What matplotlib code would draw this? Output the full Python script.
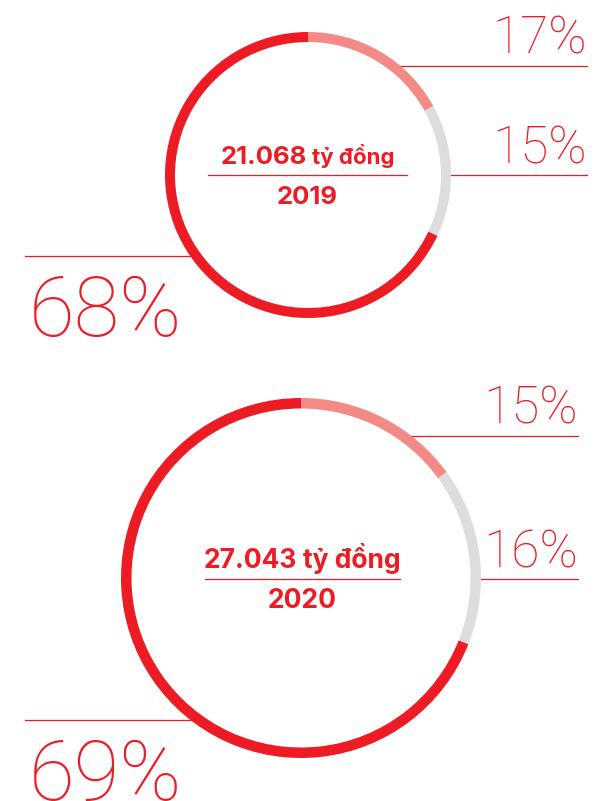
import matplotlib
matplotlib.use('Agg')
import matplotlib.pyplot as plt
import numpy as np

# Data
years = ['2019', '2020']
totals = ['21.068', '27.043']
unit = 'tỷ đồng'
shares = [[17, 15, 68], [15, 16, 69]]

red = '#ED1C24'
pink = '#F48A85'
grey = '#DCDDDE'
seg_colors = [pink, grey, red]

W, H = 595, 801
fig = plt.figure(figsize=(W / 100, H / 100), dpi=100)
ax = fig.add_axes([0, 0, 1, 1])

# ring layout (pixel coords, y from top)
rings = [
    dict(cx=308, cy=175, r=143, w=10, lines=[66, 175, 256], right=587,
         uline=(208, 407, 175), num_size=18.5, unit_size=16),
    dict(cx=301, cy=578, r=180, w=10.5, lines=[436, 579, 720], right=578,
         uline=(205, 400, 579), num_size=19, unit_size=19),
]

thin = dict(family=['Roboto', 'DejaVu Sans'], fontweight=100, color=red)
bold = dict(family=['Inter', 'DejaVu Sans'], fontweight='bold', color=red)

ax.set_xlim(0, W)
ax.set_ylim(0, H)

centre_labels = []
for i, rg in enumerate(rings):
    cx, cy, r = rg['cx'], H - rg['cy'], rg['r']
    ax.pie(shares[i], colors=seg_colors, startangle=90, counterclock=False,
           radius=r, center=(cx, cy),
           wedgeprops=dict(width=rg['w'], linewidth=0))

    # leader lines start at the ring outer edge
    y1, y2, y3 = [H - y for y in rg['lines']]
    x1 = cx + np.sqrt(r**2 - (y1 - cy)**2)
    x2 = cx + np.sqrt(max(r**2 - (y2 - cy)**2, 0))
    x3 = cx - np.sqrt(r**2 - (y3 - cy)**2)
    ax.plot([x1, rg['right']], [y1, y1], color=red, lw=0.9)
    ax.plot([x2, rg['right']], [y2, y2], color=red, lw=0.9)
    ax.plot([25, x3], [y3, y3], color=red, lw=0.9)

    ax.text(rg['right'], y1 + 13, f'{shares[i][0]}%', ha='right', va='baseline',
            fontsize=37, **thin)
    ax.text(rg['right'], y2 + 12, f'{shares[i][1]}%', ha='right', va='baseline',
            fontsize=37, **thin)
    ax.text(29, y3 - 80, f'{shares[i][2]}%', ha='left', va='baseline',
            fontsize=60, **thin)

    # center label
    ux0, ux1, uy = rg['uline']
    xm = (ux0 + ux1) / 2
    ax.plot([ux0, ux1], [H - uy, H - uy], color=red, lw=0.9)
    t_num = ax.text(xm, H - uy + 11, totals[i], ha='left', va='baseline',
                    fontsize=rg['num_size'], **bold)
    t_unit = ax.text(xm, H - uy + 11, unit, ha='left', va='baseline',
                     fontsize=rg['unit_size'], **bold)
    centre_labels.append((xm, t_num, t_unit))
    ax.text(xm, H - uy - 29, years[i], ha='center',
            va='baseline', fontsize=rg['num_size'], **bold)

ax.set_xlim(0, W)
ax.set_ylim(0, H)
ax.set_aspect('auto')
ax.set_axis_off()

# centre "value unit" pairs as one line
fig.canvas.draw()
r_ = fig.canvas.get_renderer()
for xm, t_num, t_unit in centre_labels:
    wn = t_num.get_window_extent(r_).width
    wu = t_unit.get_window_extent(r_).width
    gap = 6
    x0 = xm - (wn + gap + wu) / 2
    t_num.set_x(x0)
    t_unit.set_x(x0 + wn + gap)

fig.savefig('out.png', dpi=100, facecolor='white')
